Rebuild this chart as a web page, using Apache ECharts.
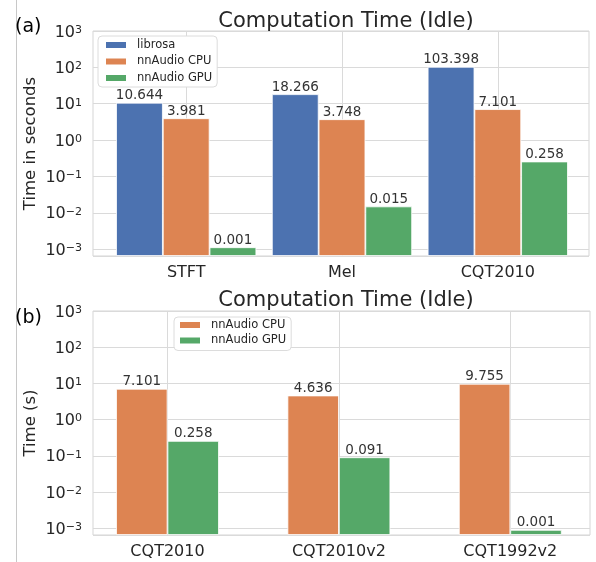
<!DOCTYPE html>
<html>
<head>
<meta charset="utf-8">
<script src="https://cdn.jsdelivr.net/npm/echarts@6/dist/echarts.min.js"></script>
<style>
html,body{margin:0;padding:0;background:#fff;}
#c{width:596px;height:562px;}
</style>
</head>
<body>
<div id="c"></div>
<script>
// ---- data ----
var catsA = ['STFT', 'Mel', 'CQT2010'];
var librosaA = [10.644, 18.266, 103.398];
var cpuA = [3.981, 3.748, 7.101];
var gpuA = [0.00113, 0.015, 0.258];

var catsB = ['CQT2010', 'CQT2010v2', 'CQT1992v2'];
var cpuB = [7.101, 4.636, 9.755];
var gpuB = [0.258, 0.091, 0.0009];

var yMin = 0.00065, yMax = 1000;
var titleText = 'Computation Time (Idle)';

// ---- styles ----
var FONT = 'DejaVu Sans';
var TXT = '#262626';
var GRID = '#dadada';
var C_LIB = '#4C72B0', C_CPU = '#DD8452', C_GPU = '#55A868';

function powLabel(v){
  var e = Math.log10(v);
  var r = Math.round(e);
  if (Math.abs(e - r) > 1e-6) return '';
  var exp = r < 0 ? '\u2212' + (-r) : String(r);
  return '{b|10}{s|' + exp + '}';
}

function frameY(gi){
  return {
    type: 'log', gridIndex: gi, min: yMin, max: yMax, logBase: 10,
    axisLine: {show: false}, axisTick: {show: false},
    axisLabel: {
      show: true, formatter: powLabel, showMinLabel: false, color: TXT, fontFamily: FONT, margin: 11,
      lineHeight: 19,
      rich: {
        b: {fontSize: 16, color: TXT, fontFamily: FONT, verticalAlign: 'bottom', lineHeight: 19},
        s: {fontSize: 11, color: TXT, fontFamily: FONT, verticalAlign: 'top', padding: [3, 0, 0, 0], lineHeight: 19}
      }
    },
    splitLine: {show: true, lineStyle: {color: GRID, width: 1}},
    name: gi === 0 ? 'Time in seconds' : 'Time (s)',
    nameLocation: 'middle', nameGap: 54, nameMoveOverlap: false,
    nameTextStyle: {color: TXT, fontFamily: FONT, fontSize: 16.5}
  };
}
function barY(gi){
  return {type: 'log', gridIndex: gi, min: yMin, max: yMax, logBase: 10, startValue: yMin, show: false, splitLine: {show: false}};
}
function frameX(gi){
  return {type: 'value', gridIndex: gi, min: 0, max: 1, show: false, splitLine: {show: false}};
}
function barX(gi, cats){
  return {
    type: 'category', gridIndex: gi, data: cats,
    axisLine: {show: false}, axisTick: {show: false},
    axisLabel: {color: TXT, fontFamily: FONT, fontSize: 16, margin: 9},
    splitLine: {show: true, alignWithLabel: true, lineStyle: {color: GRID, width: 1}}
  };
}
var valLabel = {
  show: true, position: 'top', distance: 0,
  color: '#333', fontFamily: FONT, fontSize: 13.5,
  formatter: function(p){ return p.value.toFixed(3); }
};
function barSeries(name, data, color, xi, yi){
  return {
    type: 'bar', name: name, data: data, xAxisIndex: xi, yAxisIndex: yi,
    barWidth: '30%', barGap: '0%',
    itemStyle: {color: color, borderColor: '#fff', borderWidth: 0.8},
    label: valLabel
  };
}

var chart = echarts.init(document.getElementById('c'), null, {renderer: 'canvas'});
chart.setOption({
  backgroundColor: '#fff',
  animation: false,
  textStyle: {fontFamily: FONT},
  title: [
    {text: titleText, left: 341, top: 6, textAlign: 'center', textStyle: {color: TXT, fontFamily: FONT, fontSize: 21, fontWeight: 'normal'}},
    {text: titleText, left: 341, top: 285, textAlign: 'center', textStyle: {color: TXT, fontFamily: FONT, fontSize: 21, fontWeight: 'normal'}},
    {text: '(a)', left: 10, top: 13, textStyle: {color: '#000', fontFamily: FONT, fontSize: 19, fontWeight: 'normal'}},
    {text: '(b)', left: 10, top: 304, textStyle: {color: '#000', fontFamily: FONT, fontSize: 19, fontWeight: 'normal'}}
  ],
  legend: [
    {
      data: ['librosa', 'nnAudio CPU', 'nnAudio GPU'],
      orient: 'vertical', left: 98, top: 36,
      itemWidth: 22, itemHeight: 8, itemGap: 4.5, icon: 'rect',
      padding: [3, 5, 3, 6],
      backgroundColor: '#fff', borderColor: '#dcdcdc', borderWidth: 1, borderRadius: 4,
      textStyle: {color: TXT, fontFamily: FONT, fontSize: 11.5, padding: [0, 0, 0, 5]}
    },
    {
      data: ['nnAudio CPU', 'nnAudio GPU'],
      orient: 'vertical', left: 174, top: 317,
      itemWidth: 22, itemHeight: 8, itemGap: 3.5, icon: 'rect',
      padding: [2, 5, 4, 4],
      backgroundColor: '#fff', borderColor: '#dcdcdc', borderWidth: 1, borderRadius: 4,
      textStyle: {color: TXT, fontFamily: FONT, fontSize: 11.5, padding: [0, 0, 0, 5]}
    }
  ],
  grid: [
    {left: 93, top: 31, width: 496, height: 225, show: true, borderColor: '#d5d5d5', borderWidth: 1, backgroundColor: 'transparent'},
    {left: 108.3, top: 31, width: 467.4, height: 225, show: false},
    {left: 93, top: 311, width: 497, height: 224, show: true, borderColor: '#d5d5d5', borderWidth: 1, backgroundColor: 'transparent'},
    {left: 81.8, top: 311, width: 520, height: 224, show: false}
  ],
  xAxis: [frameX(0), barX(1, catsA), frameX(2), barX(3, catsB)],
  yAxis: [frameY(0), barY(1), frameY(2), barY(3)],
  series: [
    barSeries('librosa', librosaA, C_LIB, 1, 1),
    barSeries('nnAudio CPU', cpuA, C_CPU, 1, 1),
    barSeries('nnAudio GPU', gpuA, C_GPU, 1, 1),
    barSeries('nnAudio CPU', cpuB, C_CPU, 3, 3),
    barSeries('nnAudio GPU', gpuB, C_GPU, 3, 3)
  ],
  graphic: [
    {type: 'line', shape: {x1: 16.5, y1: 0, x2: 16.5, y2: 562}, style: {stroke: '#c8c8c8', lineWidth: 1}, silent: true}
  ]
});
</script>
</body>
</html>
